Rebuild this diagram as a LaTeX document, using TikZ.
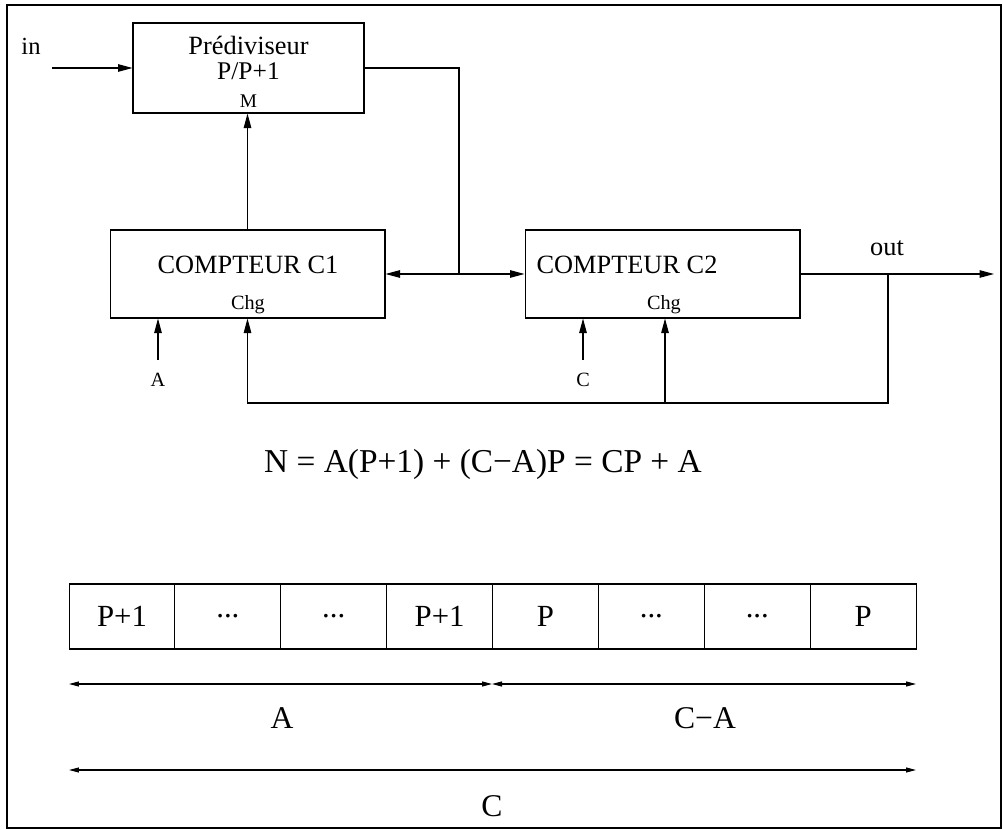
\documentclass[tikz,border=0pt]{standalone}
\usepackage{fontspec}
\setmainfont{Liberation Serif}
\usetikzlibrary{arrows.meta,positioning}
\begin{document}
\begin{tikzpicture}[x=0.02cm,y=-0.02cm,
  line width=0.6pt,
  tip/.style={-{Triangle[length=0.29cm,width=0.15cm]}},
  dtip/.style={{Triangle[length=0.29cm,width=0.15cm]}-{Triangle[length=0.29cm,width=0.15cm]}},
  stip/.style={{Triangle[length=0.2cm,width=0.1cm]}-{Triangle[length=0.2cm,width=0.1cm]}},
  blk/.style={draw,rectangle,inner sep=0pt},
  big/.style={font=\fontsize{15}{17}\selectfont,inner sep=0pt},
  small/.style={font=\fontsize{11.5}{13}\selectfont,inner sep=0pt},
  huge/.style={font=\fontsize{18}{21}\selectfont,inner sep=0pt},
  cell/.style={draw,rectangle,minimum width=2.118cm,minimum height=1.3cm,inner sep=0pt,outer sep=0pt,font=\fontsize{17.5}{20}\selectfont}]
\useasboundingbox (0,0) rectangle (1003,830);
\draw[line width=0.8pt] (7,5) rectangle (1001,828);

% Prediviseur
\node[blk,minimum width=4.62cm,minimum height=1.8cm] (pre) at (248.5,68) {};
\node[big] (preT1) at (248.5,45) {Prédiviseur};
\node[big,font=\fontsize{14.5}{17}\selectfont] (preT2) at (248.5,71) {P/P+1};
\node[small,font=\fontsize{11}{13}\selectfont] (preM) at (248.5,101) {M};
\node[big,font=\fontsize{14}{16}\selectfont] (in) at (31,46) {in};
\coordinate (inS) at (52,68);
\draw[tip] (inS) -- (pre.west);

% Counters
\node[blk,minimum width=5.5cm,minimum height=1.76cm] (c1) at (247.5,274) {};
\node[big] (c1T) at (248,265) {COMPTEUR C1};
\node[small] (c1Chg) at (248,305) {Chg};
\node[blk,minimum width=5.5cm,minimum height=1.76cm] (c2) at (662.5,274) {};
\node[big] (c2T) at (627,265) {COMPTEUR C2};
\node[small] (c2Chg) at (664,305) {Chg};

% links
\draw[tip] (c1.north) -- (c1.north |- pre.south);
\coordinate (bus) at (459,274);
\draw (pre.east) -| (bus);
\draw[dtip] (c1.east) -- (c2.west);

% inputs A and C
\coordinate (aS) at (158,360);
\coordinate (cS) at (583,360);
\node[small] (aL) at (158,380) {A};
\node[small] (cL) at (583,380) {C};
\draw[tip] (aS) -- (aS |- c1.south);
\draw[tip] (cS) -- (cS |- c2.south);

% output and feedback
\coordinate (outE) at (994,274);
\node[big] (outL) at (887,248) {out};
\draw[tip] (c2.east) -- (outE);
\coordinate (fb) at (888,274);
\coordinate (fbB) at (888,403);
\coordinate (br) at (665,403);
\draw[tip] (fb) -- (fbB) -| (c1.south);
\draw[tip] (br) -- (br |- c2.south);

% equation
\node[huge,font=\fontsize{19}{22}\selectfont] (eq) at (483,464) {N = A(P+1) + (C−A)P = CP + A};

% cells
\node[cell] (k1) at (122,616.5) {P+1};
\node[cell,right=0pt of k1] (k2) {...};
\node[cell,right=0pt of k2] (k3) {...};
\node[cell,right=0pt of k3] (k4) {P+1};
\node[cell,right=0pt of k4] (k5) {P};
\node[cell,right=0pt of k5] (k6) {...};
\node[cell,right=0pt of k6] (k7) {...};
\node[cell,right=0pt of k7] (k8) {P};

% dimension arrows
\coordinate (dA1) at (69,684);
\coordinate (dA2) at (492,684);
\coordinate (dA3) at (916,684);
\draw[stip] (dA1) -- (dA2);
\draw[stip] (dA2) -- (dA3);
\node[huge] (lA) at (282,718) {A};
\node[huge] (lCA) at (705,718) {C−A};
\coordinate (dC1) at (69,770);
\coordinate (dC2) at (916,770);
\draw[stip] (dC1) -- (dC2);
\node[huge] (lC) at (492,806) {C};
\end{tikzpicture}
\end{document}
